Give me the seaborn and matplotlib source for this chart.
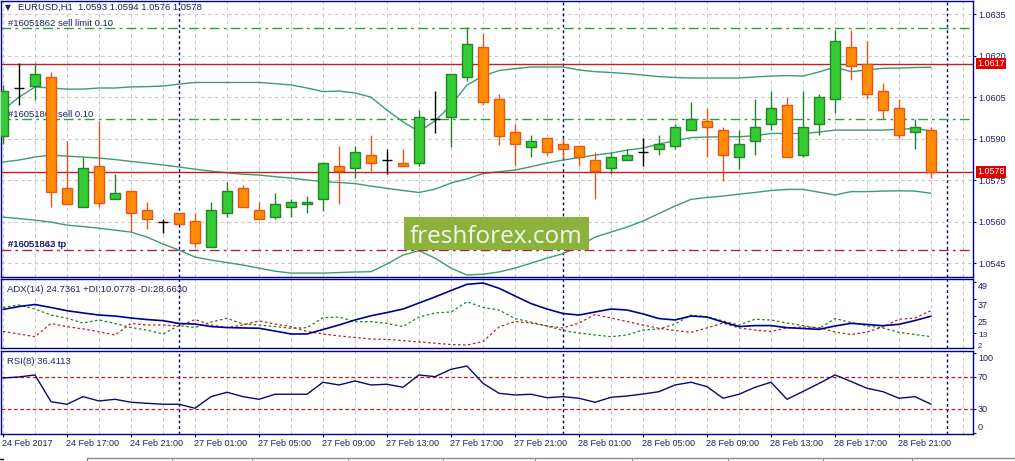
import numpy as np
import pandas as pd
import matplotlib
matplotlib.use("Agg")
import matplotlib.pyplot as plt
import matplotlib.transforms as mtransforms
from matplotlib.patches import Rectangle
from matplotlib.lines import Line2D
import seaborn as sns

# Estilo base
sns.set_style("white")
plt.rcParams['font.family'] = ['Liberation Sans', 'DejaVu Sans']

# ---------------- Datos EURUSD H1 (24 Feb 13:00 -> 28 Feb 23:00) ----------------
apertura = [1.05911, 1.06082, 1.06091, 1.06121, 1.05721, 1.05652, 1.05801, 1.05681, 1.05710, 1.05641,
            1.05600, 1.05631, 1.05602, 1.05510, 1.05631, 1.05721, 1.05641, 1.05618, 1.05652, 1.05663,
            1.05681, 1.05801, 1.05793, 1.05840, 1.05822, 1.05811, 1.05811, 1.05970, 1.05979, 1.06121,
            1.06230, 1.06042, 1.05923, 1.05871, 1.05901, 1.05880, 1.05872, 1.05822, 1.05793, 1.05822,
            1.05851, 1.05862, 1.05872, 1.05930, 1.05963, 1.05930, 1.05833, 1.05890, 1.05952, 1.06020,
            1.05840, 1.05952, 1.06042, 1.06230, 1.06171, 1.06071, 1.06011, 1.05923, 1.05930]
maximo = [1.06094, 1.06172, 1.06172, 1.06142, 1.05892, 1.05835, 1.05965, 1.05772, 1.05710, 1.05671,
          1.05612, 1.05631, 1.05631, 1.05671, 1.05744, 1.05732, 1.05671, 1.05703, 1.05682, 1.05693,
          1.05811, 1.05873, 1.05873, 1.05913, 1.05862, 1.05862, 1.06003, 1.06072, 1.06132, 1.06302,
          1.06280, 1.06061, 1.05952, 1.05912, 1.05901, 1.05901, 1.05872, 1.05851, 1.05851, 1.05862,
          1.05901, 1.05912, 1.05952, 1.06031, 1.06010, 1.05941, 1.05930, 1.06042, 1.06072, 1.06051,
          1.06072, 1.06061, 1.06292, 1.06292, 1.06251, 1.06101, 1.06042, 1.05971, 1.05941]
minimo = [1.05881, 1.06021, 1.06040, 1.05652, 1.05663, 1.05652, 1.05652, 1.05681, 1.05562, 1.05573,
          1.05561, 1.05591, 1.05510, 1.05510, 1.05618, 1.05652, 1.05612, 1.05610, 1.05618, 1.05631,
          1.05640, 1.05663, 1.05760, 1.05782, 1.05771, 1.05800, 1.05800, 1.05921, 1.05871, 1.06109,
          1.06020, 1.05878, 1.05800, 1.05833, 1.05840, 1.05829, 1.05800, 1.05681, 1.05772, 1.05822,
          1.05800, 1.05840, 1.05862, 1.05930, 1.05833, 1.05748, 1.05792, 1.05840, 1.05930, 1.05833,
          1.05833, 1.05912, 1.05992, 1.06111, 1.06042, 1.05971, 1.05900, 1.05862, 1.05760]
cierre = [1.06072, 1.06082, 1.06133, 1.05709, 1.05663, 1.05793, 1.05669, 1.05703, 1.05631, 1.05612,
          1.05600, 1.05591, 1.05522, 1.05641, 1.05710, 1.05652, 1.05612, 1.05663, 1.05670, 1.05671,
          1.05811, 1.05782, 1.05851, 1.05811, 1.05822, 1.05800, 1.05979, 1.05970, 1.06132, 1.06242,
          1.06031, 1.05911, 1.05880, 1.05890, 1.05851, 1.05862, 1.05833, 1.05782, 1.05833, 1.05840,
          1.05851, 1.05880, 1.05941, 1.05970, 1.05941, 1.05840, 1.05880, 1.05941, 1.06010, 1.05833,
          1.05941, 1.06051, 1.06251, 1.06161, 1.06061, 1.06002, 1.05912, 1.05941, 1.05780]

# Bandas de Bollinger
banda_sup = [1.06003, 1.06050, 1.06087, 1.06083, 1.06079, 1.06079, 1.06083, 1.06083, 1.06087, 1.06088,
             1.06090, 1.06097, 1.06103, 1.06103, 1.06103, 1.06103, 1.06103, 1.06099, 1.06094, 1.06083,
             1.06070, 1.06072, 1.06065, 1.06050, 1.06003, 1.05961, 1.05926, 1.05964, 1.06021, 1.06094,
             1.06126, 1.06146, 1.06153, 1.06159, 1.06159, 1.06159, 1.06148, 1.06142, 1.06139, 1.06135,
             1.06130, 1.06124, 1.06121, 1.06119, 1.06119, 1.06119, 1.06119, 1.06123, 1.06126, 1.06128,
             1.06126, 1.06141, 1.06159, 1.06142, 1.06148, 1.06154, 1.06155, 1.06157, 1.06158]
banda_med = [1.05816, 1.05823, 1.05834, 1.05841, 1.05837, 1.05834, 1.05830, 1.05825, 1.05818, 1.05812,
             1.05805, 1.05798, 1.05790, 1.05783, 1.05777, 1.05772, 1.05769, 1.05763, 1.05758, 1.05751,
             1.05745, 1.05742, 1.05738, 1.05729, 1.05721, 1.05713, 1.05706, 1.05718, 1.05740, 1.05755,
             1.05774, 1.05781, 1.05787, 1.05799, 1.05812, 1.05823, 1.05832, 1.05841, 1.05848, 1.05859,
             1.05866, 1.05881, 1.05893, 1.05904, 1.05906, 1.05907, 1.05907, 1.05911, 1.05919, 1.05919,
             1.05919, 1.05924, 1.05931, 1.05931, 1.05931, 1.05931, 1.05934, 1.05937, 1.05928]
banda_inf = [1.05617, 1.05612, 1.05606, 1.05599, 1.05588, 1.05583, 1.05577, 1.05570, 1.05563, 1.05545,
             1.05520, 1.05498, 1.05473, 1.05462, 1.05453, 1.05444, 1.05433, 1.05422, 1.05415, 1.05415,
             1.05415, 1.05417, 1.05419, 1.05420, 1.05448, 1.05480, 1.05496, 1.05469, 1.05433, 1.05408,
             1.05411, 1.05419, 1.05433, 1.05451, 1.05469, 1.05485, 1.05512, 1.05545, 1.05563, 1.05581,
             1.05603, 1.05630, 1.05657, 1.05681, 1.05688, 1.05693, 1.05700, 1.05706, 1.05713, 1.05717,
             1.05717, 1.05707, 1.05697, 1.05709, 1.05709, 1.05711, 1.05712, 1.05711, 1.05703]

# ADX(14)
adx = [29.5, 31.6, 33.0, 30.9, 28.6, 27.0, 25.5, 24.8, 23.4, 22.3,
       21.5, 19.5, 19.1, 17.3, 16.6, 16.3, 16.1, 14.1, 12.0, 12.0,
       15.2, 18.4, 22.0, 25.0, 27.3, 29.8, 34.1, 38.4, 43.0, 47.4,
       48.4, 44.6, 39.1, 33.7, 29.8, 26.6, 25.5, 27.7, 29.8, 29.1,
       26.3, 23.0, 22.0, 24.8, 24.1, 20.5, 17.3, 18.0, 18.0, 16.5,
       15.9, 15.3, 17.7, 19.6, 18.8, 17.9, 18.9, 21.6, 24.7]
di_mas = [30.9, 32.7, 29.8, 25.5, 23.2, 19.8, 22.0, 19.5, 16.6, 14.8,
          12.0, 18.0, 16.6, 20.5, 23.2, 19.1, 18.4, 17.3, 16.1, 16.5,
          23.6, 24.1, 20.8, 20.8, 19.5, 17.3, 24.1, 27.0, 27.7, 35.0,
          30.9, 29.1, 23.0, 20.5, 17.7, 14.5, 12.7, 11.3, 10.1, 11.3,
          14.8, 15.6, 19.1, 25.5, 24.3, 21.3, 18.4, 22.5, 22.0, 19.8,
          18.0, 15.9, 23.0, 20.2, 17.9, 16.3, 13.2, 11.6, 10.1]
di_menos = [13.8, 12.0, 10.1, 19.5, 17.2, 15.6, 13.6, 11.3, 19.5, 18.4,
            18.4, 17.7, 22.3, 18.4, 16.6, 18.4, 21.3, 19.1, 17.2, 13.8,
            12.0, 10.6, 9.5, 8.4, 8.1, 7.3, 6.3, 5.4, 4.5, 4.1,
            6.6, 17.0, 20.9, 19.8, 17.7, 16.3, 19.8, 25.9, 23.4, 20.9,
            18.4, 16.1, 14.5, 13.1, 16.3, 19.8, 16.3, 14.8, 13.8, 16.3,
            17.0, 16.6, 13.4, 11.6, 13.4, 17.0, 22.5, 23.4, 28.7]

# RSI(8)
rsi = [69.1, 70.4, 72.9, 39.5, 36.3, 45.8, 40.4, 42.5, 38.8, 37.5,
       36.3, 36.3, 31.3, 45.8, 51.3, 45.8, 42.5, 48.8, 48.8, 48.8,
       63.8, 60.4, 65.4, 60.4, 61.3, 57.5, 72.9, 70.8, 80.0, 84.1,
       62.5, 50.0, 47.9, 48.8, 44.5, 45.8, 43.8, 38.8, 45.0, 46.6,
       49.1, 52.0, 60.4, 63.8, 58.3, 43.8, 48.8, 57.5, 63.8, 42.5,
       52.3, 62.3, 72.9, 64.8, 56.3, 52.0, 43.8, 45.8, 36.4]

# Eje de tiempo (una etiqueta cada 4 velas)
etiquetas_tiempo = ['24 Feb 2017', '24 Feb 17:00', '24 Feb 21:00', '27 Feb 01:00', '27 Feb 05:00',
                    '27 Feb 09:00', '27 Feb 13:00', '27 Feb 17:00', '27 Feb 21:00', '28 Feb 01:00',
                    '28 Feb 05:00', '28 Feb 09:00', '28 Feb 13:00', '28 Feb 17:00', '28 Feb 21:00']
pos_etiquetas = list(range(0, 57, 4))
separadores_dia = [11, 35, 59]   # 27 Feb, 28 Feb, 01 Mar 00:00

precios_eje = [1.0635, 1.0620, 1.0605, 1.0590, 1.0575, 1.0560, 1.0545]
lineas_rojas = [1.0617, 1.0578]
orden_sell_limit = 1.0630
orden_sell = 1.0597
orden_tp = 1.0550

# ---------------- Figura ----------------
W, H = 1015, 461
fig = plt.figure(figsize=(W / 100, H / 100), dpi=100)

def caja(x0, y0, x1, y1):
    return [x0 / W, 1 - y1 / H, (x1 - x0) / W, (y1 - y0) / H]

def fpos(x, y):
    return x / W, 1 - y / H

ax = fig.add_axes(caja(1, 1, 973, 276.7))
ax_adx = fig.add_axes(caja(1, 279.3, 973, 348.3))
ax_rsi = fig.add_axes(caja(1, 350.8, 973, 433.7))

azul = '#000080'
texto_azul = '#1b1f6e'
gris_grid = '#c8c8c8'
x = np.arange(len(apertura))

for a in (ax, ax_adx, ax_rsi):
    a.set_xlim(-0.125, 60.625)
    for s in a.spines.values():
        s.set_color(azul)
        s.set_linewidth(1)
    for xi in range(0, 61, 2):
        a.axvline(xi, color=gris_grid, lw=0.8, ls=(0, (3, 3)), zorder=0.5)
    for xs in separadores_dia:
        a.axvline(xs, color=azul, lw=1, ls=(0, (2, 2)), zorder=1)
    a.set_xticks([])

# ---- Panel principal ----
ax.set_ylim(1.05402, 1.06397)
for p in precios_eje:
    ax.axhline(p, color=gris_grid, lw=0.8, ls=(0, (3, 3)), zorder=0.5)

sns.lineplot(x=x, y=banda_sup, ax=ax, color='#3c9d6d', lw=1, zorder=2)
sns.lineplot(x=x, y=banda_med, ax=ax, color='#3c9d6d', lw=1, zorder=2)
sns.lineplot(x=x, y=banda_inf, ax=ax, color='#3c9d6d', lw=1, zorder=2)

for p in lineas_rojas:
    ax.axhline(p, color='#c41e1e', lw=1, zorder=2)
ax.axhline(orden_sell_limit, color='#33a033', lw=1, ls=(0, (7, 3, 2, 3)), zorder=2)
ax.axhline(orden_sell, color='#33a033', lw=1, ls=(0, (7, 3, 2, 3)), zorder=2)
ax.axhline(orden_tp, color='#a8264c', lw=1, ls=(0, (7, 3, 2, 3)), zorder=2)

etiq = ax.get_yaxis_transform()
for txt, p in [('#16051862 sell limit 0.10', orden_sell_limit),
               ('#16051863 sell 0.10', orden_sell),
               ('#16051842 tp', orden_tp),
               ('#16051863 tp', orden_tp)]:
    ax.annotate(txt, xy=(0, p), xycoords=etiq, xytext=(5, 1.5), textcoords='offset points',
                fontsize=6.8, color=texto_azul, va='baseline', ha='left', zorder=3)

# Velas
o = np.array(apertura); c = np.array(cierre); h = np.array(maximo); l = np.array(minimo)
sube = c > o
baja = c < o
doji = c == o
ax.vlines(x[sube], l[sube], h[sube], color='#24832a', lw=1, zorder=4)
ax.vlines(x[baja], l[baja], h[baja], color='#e4561a', lw=1, zorder=4)
ax.vlines(x[doji], l[doji], h[doji], color='black', lw=1, zorder=4)
ax.bar(x[sube], (c - o)[sube], bottom=o[sube], width=0.62, color='#33cc33',
       edgecolor='#24832a', linewidth=1, zorder=5)
ax.bar(x[baja], (o - c)[baja], bottom=c[baja], width=0.62, color='#ff8c00',
       edgecolor='#e4561a', linewidth=1, zorder=5)
ax.hlines(o[doji], x[doji] - 0.34, x[doji] + 0.34, color='black', lw=1, zorder=5)

ax.yaxis.tick_right()
ax.set_yticks(precios_eje)
ax.set_yticklabels([f'{p:.4f}' for p in precios_eje])
ax.tick_params(axis='y', right=True, length=2.5, width=0.8, color=azul, pad=1.5,
               labelsize=6.5, labelcolor=texto_azul)
ax.set_ylabel('')

for p in lineas_rojas:
    ax.annotate(f'{p:.4f}', xy=(1, p), xycoords=etiq, xytext=(3.3, 0), textcoords='offset points',
                fontsize=6.5, color='white', va='center', ha='left', annotation_clip=False,
                bbox=dict(boxstyle='square,pad=0.12', fc='#e00000', ec='none'), zorder=10)

# ---- Panel ADX ----
ax_adx.set_ylim(1.79, 51.0)
sns.lineplot(x=x, y=di_mas, ax=ax_adx, color='#1e7d1e', lw=0.9, ls=(0, (2, 2)), zorder=2)
sns.lineplot(x=x, y=di_menos, ax=ax_adx, color='#b22222', lw=0.9, ls=(0, (2, 2)), zorder=2)
sns.lineplot(x=x, y=adx, ax=ax_adx, color='#000090', lw=1.2, zorder=3)
ax_adx.set_yticks([49, 37, 25, 13])
ax_adx.yaxis.tick_right()
ax_adx.tick_params(axis='y', right=True, labelright=False, length=2.5, width=0.8, color=azul)
ax_adx.set_ylabel('')
tr_adx = ax_adx.get_yaxis_transform()
for v, d, fs in [(49, 4.6, 6.5), (37, 6.8, 6.5), (25, 6.9, 6.5), (13, 3.2, 6.0), (2, -1.6, 5.3)]:
    off = mtransforms.ScaledTranslation(5 / 100, -d / 100, fig.dpi_scale_trans)
    ax_adx.text(1, v, str(v), transform=tr_adx + off, fontsize=fs, color=texto_azul,
                va='center', ha='left', clip_on=False)
ax_adx.text(6 / 972, 1 - (291.7 - 279.3) / 69, 'ADX(14) 24.7361 +DI:10.0778 -DI:28.6630',
            transform=ax_adx.transAxes, fontsize=6.8, color=texto_azul, va='baseline')

# ---- Panel RSI ----
ax_rsi.set_ylim(-0.5, 103.1)
for nivel in (70, 30):
    ax_rsi.axhline(nivel, color='#b22222', lw=0.9, ls=(0, (3, 2)), zorder=1)
sns.lineplot(x=x, y=rsi, ax=ax_rsi, color='#0a0a6e', lw=1, zorder=3)
ax_rsi.set_yticks([100, 70, 30, 0])
ax_rsi.yaxis.tick_right()
ax_rsi.tick_params(axis='y', right=True, labelright=False, length=2.5, width=0.8, color=azul)
ax_rsi.set_ylabel('')
tr_rsi = ax_rsi.get_yaxis_transform()
for v, d in [(100, 5.5), (70, 0), (30, 0), (0, -6.0)]:
    off = mtransforms.ScaledTranslation(5 / 100, -d / 100, fig.dpi_scale_trans)
    ax_rsi.text(1, v, str(v), transform=tr_rsi + off, fontsize=6.5, color=texto_azul,
                va='center', ha='left', clip_on=False)
ax_rsi.text(6 / 972, 1 - (364.3 - 350.8) / 82.9, 'RSI(8) 36.4113',
            transform=ax_rsi.transAxes, fontsize=6.8, color=texto_azul, va='baseline')

ax_rsi.set_xticks(pos_etiquetas)
ax_rsi.set_xticklabels(etiquetas_tiempo)
ax_rsi.tick_params(axis='x', bottom=True, length=2.5, width=0.8, color=azul, pad=1.5,
                   labelsize=6.5, labelcolor=texto_azul)
for lab in ax_rsi.get_xticklabels():
    lab.set_ha('left')
    lab.set_transform(lab.get_transform() +
                      mtransforms.ScaledTranslation(-1.5 / 100, 0, fig.dpi_scale_trans))

# ---- Cabecera ----
fig.text(*fpos(5, 10), '\u25bc', fontsize=5.5, color=texto_azul, va='baseline',
         family=['DejaVu Sans'])
fig.text(*fpos(18, 10), 'EURUSD,H1  1.0593 1.0594 1.0576 1.0578', fontsize=6.8,
         color=texto_azul, va='baseline')

# ---- Marca de agua ----
fig.add_artist(Rectangle(fpos(404, 250), 185 / W, 33 / H, transform=fig.transFigure,
                         facecolor='#8cb23e', edgecolor='none', zorder=5))
fig.text(*fpos(496.5, 243.3), 'freshforex.com', fontsize=17.5, color='#f4f8ec',
         ha='center', va='baseline', family=['Open Sans', 'DejaVu Sans'], zorder=6)

# ---- Barra inferior ----
fig.add_artist(Line2D([87 / W, 1015 / W], [1 - 457.5 / H] * 2, transform=fig.transFigure,
                      color='#8a8a8a', lw=1))
fig.add_artist(Line2D([87 / W, 87 / W], [1 - 457.5 / H, 0], transform=fig.transFigure,
                      color='#8a8a8a', lw=1))
for xt in [171.7, 251.7, 348, 443, 535, 631.7, 728, 823, 911.7]:
    fig.add_artist(Line2D([xt / W] * 2, [1 - 458.5 / H, 1 - 461 / H], transform=fig.transFigure,
                          color='#8a8a8a', lw=0.8))
fig.add_artist(Line2D([0, 3 / W], [1 - 459 / H] * 2, transform=fig.transFigure,
                      color='black', lw=1))

fig.savefig('out.png', dpi=100)
